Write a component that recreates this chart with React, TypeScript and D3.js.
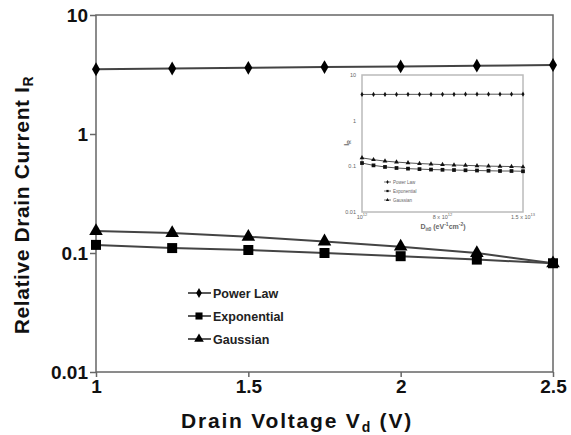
import { useEffect, useRef } from 'react'
import * as d3 from 'd3'

// main chart data
const drainVoltage = [1, 1.25, 1.5, 1.75, 2, 2.25, 2.5]
const powerLaw = [3.5, 3.55, 3.6, 3.65, 3.7, 3.75, 3.8]
const exponential = [0.117, 0.11, 0.106, 0.1, 0.094, 0.088, 0.082]
const gaussian = [0.153, 0.147, 0.137, 0.125, 0.113, 0.1, 0.082]
const xTicks = [1, 1.5, 2, 2.5]
const yTicks = [0.01, 0.1, 1, 10]
const legendNames = ['Power Law', 'Exponential', 'Gaussian']

// inset data
const dit = [1, 2, 3, 4, 5, 6, 7, 8, 9, 10, 11, 12, 13, 14, 15].map(d => d * 1e12)
const insetPower = [3.75, 3.75, 3.76, 3.76, 3.77, 3.77, 3.78, 3.78, 3.78, 3.79, 3.79, 3.8, 3.8, 3.8, 3.8]
const insetExp = [0.118, 0.105, 0.097, 0.092, 0.089, 0.087, 0.085, 0.084, 0.083, 0.082, 0.081, 0.08, 0.079, 0.079, 0.078]
const insetGauss = [0.153, 0.14, 0.13, 0.124, 0.119, 0.115, 0.112, 0.109, 0.107, 0.105, 0.103, 0.101, 0.1, 0.099, 0.097]
const insetXTicks = [
  { v: 1e12, base: '10', sup: '12' },
  { v: 8e12, base: '8 x 10', sup: '12' },
  { v: 1.5e13, base: '1.5 x 10', sup: '13' },
]

const font = 'Liberation Sans, Arial, sans-serif'

const App = () => {
  const ref = useRef<SVGSVGElement>(null)

  useEffect(() => {
    const svg = d3.select(ref.current)
    svg.selectAll('*').remove()

    const x = d3.scaleLinear().domain([1, 2.5]).range([96, 553])
    const y = d3.scaleLog().domain([0.01, 10]).range([372, 15])

    // frame
    svg.append('rect')
       .attr('x', x(1)).attr('y', y(10))
       .attr('width', x(2.5) - x(1)).attr('height', y(0.01) - y(10))
       .attr('fill', 'none').attr('stroke', '#666').attr('stroke-width', 1.5)

    svg.append('g')
       .attr('transform', `translate(0,${y(0.01)})`)
       .call(d3.axisBottom(x).tickValues(xTicks).tickSize(5).tickFormat(d => String(d)))
       .call(g => g.select('.domain').remove())
       .call(g => g.selectAll('line').attr('stroke', '#666').attr('stroke-width', 1.5))
       .call(g => g.selectAll('text').attr('font-family', font).attr('font-size', 19)
                   .attr('font-weight', 'bold').attr('fill', '#111'))

    svg.append('g')
       .attr('transform', `translate(${x(1)},0)`)
       .call(d3.axisLeft(y).tickValues(yTicks).tickSize(6).tickFormat(d => String(d)))
       .call(g => g.select('.domain').remove())
       .call(g => g.selectAll('line').attr('stroke', '#666').attr('stroke-width', 1.5))
       .call(g => g.selectAll('text').attr('font-family', font).attr('font-size', 19)
                   .attr('font-weight', 'bold').attr('fill', '#111').attr('x', -8))

    // titles
    const xt = svg.append('text')
       .attr('x', 297).attr('y', 428).attr('text-anchor', 'middle')
       .attr('font-family', font).attr('font-size', 21).attr('font-weight', 'bold')
       .attr('letter-spacing', 1.8).attr('fill', '#111')
    xt.append('tspan').text('Drain Voltage V')
    xt.append('tspan').attr('font-size', 14).attr('dy', 4).text('d')
    xt.append('tspan').attr('dy', -4).text(' (V)')

    const yt = svg.append('text')
       .attr('transform', 'translate(29,205) rotate(-90)').attr('text-anchor', 'middle')
       .attr('font-family', font).attr('font-size', 21).attr('font-weight', 'bold')
       .attr('letter-spacing', 0.6).attr('fill', '#111')
    yt.append('tspan').text('Relative Drain Current I')
    yt.append('tspan').attr('font-size', 14).attr('dy', 4).text('R')

    const line = d3.line<number>().x((d, i) => x(drainVoltage[i])).y(d => y(d))
    const series = [powerLaw, exponential, gaussian]
    const symbols = [d3.symbolDiamond, d3.symbolSquare, d3.symbolTriangle]
    const sizes = [55, 100, 80]

    series.forEach(s => {
      svg.append('path').attr('d', line(s)).attr('fill', 'none')
         .attr('stroke', '#444').attr('stroke-width', 2)
    })
    series.forEach((s, k) => {
      svg.append('g').selectAll('path').data(s).join('path')
         .attr('transform', (d, i) => `translate(${x(drainVoltage[i])},${y(d)})`)
         .attr('d', d3.symbol(symbols[k], sizes[k])())
         .attr('fill', '#000')
    })

    // legend
    legendNames.forEach((name, k) => {
      const ly = 293 + k * 23
      svg.append('line').attr('x1', 188).attr('x2', 211).attr('y1', ly).attr('y2', ly)
         .attr('stroke', '#222').attr('stroke-width', 1.5)
      svg.append('path').attr('transform', `translate(199,${ly})`)
         .attr('d', d3.symbol(symbols[k], sizes[k] * 0.5)()).attr('fill', '#000')
      svg.append('text').attr('x', 213).attr('y', ly + 4.5)
         .attr('font-family', font).attr('font-size', 12.5).attr('font-weight', 'bold')
         .attr('fill', '#222').text(name)
    })

    // inset
    const ix = d3.scaleLinear().domain([1e12, 1.5e13]).range([362, 523])
    const iy = d3.scaleLog().domain([0.01, 10]).range([212, 75])

    svg.append('rect')
       .attr('x', ix(1e12)).attr('y', iy(10))
       .attr('width', ix(1.5e13) - ix(1e12)).attr('height', iy(0.01) - iy(10))
       .attr('fill', '#fff').attr('stroke', '#bbb').attr('stroke-width', 1.5)

    svg.append('g').selectAll('text').data(yTicks).join('text')
       .attr('x', 356).attr('y', d => iy(d) + 2)
       .attr('text-anchor', 'end').attr('font-family', font).attr('font-size', 5.5)
       .attr('fill', '#666').text(d => String(d))

    insetXTicks.forEach(t => {
      const tx = svg.append('text').attr('x', ix(t.v)).attr('y', 218.5)
         .attr('text-anchor', 'middle').attr('font-family', font).attr('font-size', 5.5)
         .attr('fill', '#666')
      tx.append('tspan').text(t.base)
      tx.append('tspan').attr('font-size', 4).attr('dy', -2.5).text(t.sup)
    })

    const ixt = svg.append('text').attr('x', 443).attr('y', 228.5).attr('text-anchor', 'middle')
       .attr('font-family', font).attr('font-size', 7).attr('font-weight', 'bold').attr('fill', '#666')
    ixt.append('tspan').text('D')
    ixt.append('tspan').attr('font-size', 5).attr('dy', 2).text('it0')
    ixt.append('tspan').attr('dy', -2).text(' (eV')
    ixt.append('tspan').attr('font-size', 5).attr('dy', -3).text('-1')
    ixt.append('tspan').attr('dy', 3).text('cm')
    ixt.append('tspan').attr('font-size', 5).attr('dy', -3).text('-2')
    ixt.append('tspan').attr('dy', 3).text(')')

    const iyt = svg.append('text').attr('transform', 'translate(349,143) rotate(-90)')
       .attr('text-anchor', 'middle').attr('font-family', font).attr('font-size', 7)
       .attr('font-weight', 'bold').attr('fill', '#666')
    iyt.append('tspan').text('I')
    iyt.append('tspan').attr('font-size', 5).attr('dy', 2).text('R')

    const iline = d3.line<number>().x((d, i) => ix(dit[i])).y(d => iy(d))
    const iseries = [insetPower, insetExp, insetGauss]
    iseries.forEach((s, k) => {
      svg.append('path').attr('d', iline(s)).attr('fill', 'none')
         .attr('stroke', '#555').attr('stroke-width', 1)
      svg.append('g').selectAll('path').data(s).join('path')
         .attr('transform', (d, i) => `translate(${ix(dit[i])},${iy(d)})`)
         .attr('d', d3.symbol(symbols[k], [8, 14, 10][k])())
         .attr('fill', '#111')
    })

    legendNames.forEach((name, k) => {
      const ly = 182 + k * 9
      svg.append('line').attr('x1', 384).attr('x2', 391).attr('y1', ly).attr('y2', ly)
         .attr('stroke', '#555').attr('stroke-width', 0.8)
      svg.append('path').attr('transform', `translate(387.5,${ly})`)
         .attr('d', d3.symbol(symbols[k], 5)()).attr('fill', '#111')
      svg.append('text').attr('x', 393).attr('y', ly + 1.6)
         .attr('font-family', font).attr('font-size', 4.5).attr('fill', '#666').text(name)
    })
  }, [])

  return (
    <svg ref={ref} width={571} height={435}
         style={{ position: 'absolute', left: 0, top: 0, background: '#fff' }} />
  )
}

export default App
